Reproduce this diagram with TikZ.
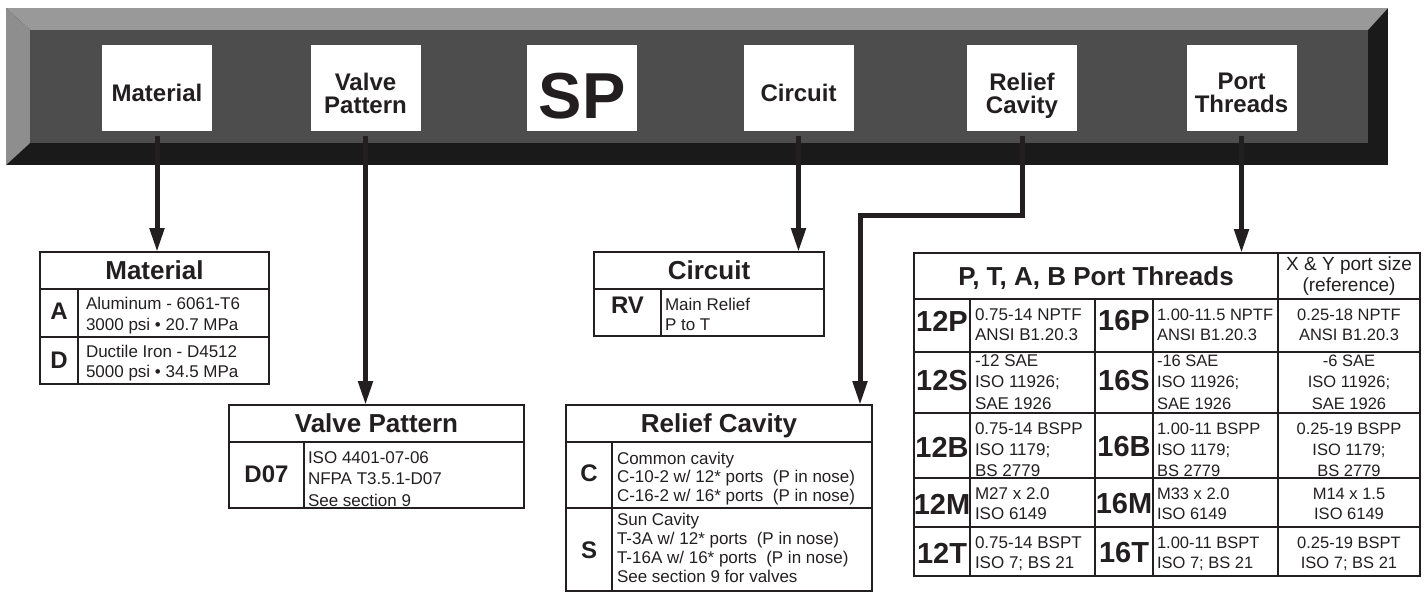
\documentclass[tikz,border=0pt]{standalone}
\usepackage{fontspec}
\setmainfont{Liberation Sans}
\usetikzlibrary{arrows.meta}
\definecolor{ink}{HTML}{231F20}
\definecolor{bartop}{HTML}{999999}
\definecolor{barleft}{HTML}{8E8E8E}
\definecolor{barmid}{HTML}{4D4D4D}
\definecolor{bardark}{HTML}{1A1A1A}
\newcommand\fs[2]{\fontsize{#1}{#2}\selectfont}
\newcommand\desclines[6]{%
  \foreach \t [count=\i from 0] in {#6}{%
    \node[#1] (#2\i) at (#3,{#4+\i*#5}) {\t};}}
\begin{document}
\begin{tikzpicture}[x=1pt,y=-1pt,
  tagbox/.style={fill=white,minimum width=110pt,minimum height=86pt,inner sep=0pt,outer sep=0pt},
  tagtxt/.style={inner sep=0pt,text=ink,align=center,text depth=0pt,font={\fs{24}{23}\bfseries}},
  hdr/.style={inner sep=0pt,outer sep=0pt,text=ink,text depth=0pt,font={\fs{26}{28}\bfseries}},
  lab/.style={inner sep=0pt,text=ink,font={\fs{24}{26}\bfseries}},
  plab/.style={inner sep=0pt,text=ink,font={\fs{29}{30}\bfseries}},
  desc/.style={anchor=base west,inner sep=0pt,outer sep=0pt,text=ink,font={\fs{17}{20}}},
  descr/.style={anchor=base west,inner sep=0pt,outer sep=0pt,text=ink,font={\fs{17}{19}}},
  pdesc/.style={anchor=base west,inner sep=0pt,outer sep=0pt,text=ink,font={\fs{17}{20}}},
  pdescb/.style={anchor=base west,inner sep=0pt,outer sep=0pt,text=ink,font={\fs{16.5}{20}}},
  pdescc/.style={anchor=base,inner sep=0pt,outer sep=0pt,text=ink,font={\fs{16.5}{20}}},
  outerline/.style={draw=ink,line width=2.5pt},
  thinline/.style={draw=ink,line width=1.3pt},
  midline/.style={draw=ink,line width=2pt},
  conn/.style={draw=ink,line width=5pt,line join=miter,-{Triangle[width=14pt,length=24pt]}}]
\useasboundingbox (0,0) rectangle (1424,592);
% ---- bevelled bar
\fill[bardark] (6,8) rectangle (1388,165);
\fill[bartop] (6,8) -- (1388,8) -- (1368,30) -- (30,30) -- cycle;
\fill[barleft] (6,8) -- (30,30) -- (30,143) -- (6,165) -- cycle;
\fill[barmid] (30,30) rectangle (1368,143);
% ---- tag boxes
\node[tagbox] (matbox) at (157,88) {};
\node[tagbox] (valbox) at (365.5,88) {};
\node[tagbox] (spbox) at (582,88) {};
\node[tagbox] (cirbox) at (798.5,88) {};
\node[tagbox] (relbox) at (1022,88) {};
\node[tagbox] (porbox) at (1241.5,88) {};
\node[tagtxt] (mattxt) at (157,93) {Material};
\node[tagtxt] (valtxt) at (365.5,93) {Valve\\Pattern};
\node[tagtxt,font={\fs{65}{65}\bfseries}] (sptxt) at (582,96) {SP};
\node[tagtxt] (cirtxt) at (798.5,93) {Circuit};
\node[tagtxt] (reltxt) at (1022,93) {Relief\\Cavity};
\node[tagtxt] (portxt) at (1241.5,93) {Port\\Threads};
% ---- Material table
\draw[thinline] (78,289) -- (78,384) (40,337) -- (269,337);
\draw[outerline] (40,289) -- (269,289);
\draw[outerline] (40,252) rectangle (269,384);
\node[hdr,minimum width=229pt,minimum height=37pt] (mathdr) at (154.5,270.5) {Material};
\node[lab] (labA) at (59,311) {A};
\node[lab] (labD) at (59,360) {D};
\desclines{desc}{mA}{86}{309}{21}{Aluminum - 6061-T6,3000 psi • 20.7 MPa}
\desclines{desc}{mD}{86}{357}{20}{Ductile Iron - D4512,5000 psi • 34.5 MPa}
% ---- Valve Pattern table
\draw[thinline] (304,442) -- (304,508);
\draw[outerline] (229,442) -- (524,442);
\draw[outerline] (229,405) rectangle (524,508);
\node[hdr,minimum width=295pt,minimum height=37pt] (valhdr) at (376.5,423.5) {Valve Pattern};
\node[lab] (labD07) at (266.5,474) {D07};
\desclines{desc}{vp}{308}{463}{21.5}{ISO 4401-07-06,NFPA T3.5.1-D07,See section 9}
% ---- Circuit table
\draw[thinline] (661,289) -- (661,336);
\draw[outerline] (594,289) -- (824,289);
\draw[outerline] (594,252) rectangle (824,336);
\node[hdr,minimum width=230pt,minimum height=37pt] (cirhdr) at (709,270.5) {Circuit};
\node[lab] (labRV) at (627.5,305) {RV};
\desclines{desc}{ci}{665}{310}{20}{Main Relief,P to T}
% ---- Relief Cavity table
\draw[thinline] (612,442) -- (612,591) (566,508) -- (872,508);
\draw[outerline] (566,442) -- (872,442);
\draw[outerline] (566,405) rectangle (872,591);
\node[hdr,minimum width=306pt,minimum height=37pt] (relhdr) at (719,423.5) {Relief Cavity};
\node[lab] (labC) at (589,473) {C};
\node[lab] (labS) at (589,550) {S};
\desclines{descr}{rc}{617}{464}{18.8}{Common cavity,C-10-2 w/ 12* ports\ \ (P in nose),C-16-2 w/ 16* ports\ \ (P in nose)}
\desclines{descr}{rs}{617}{525}{19}{Sun Cavity,T-3A w/ 12* ports\ \ (P in nose),T-16A w/ 16* ports\ \ (P in nose),See section 9 for valves}
% ---- Port Threads table
\draw[thinline] (970,299) -- (970,576) (1153,299) -- (1153,576);
\draw[midline] (914,352) -- (1420,352) (914,413) -- (1420,413) (914,478) -- (1420,478) (914,527) -- (1420,527);
\draw[midline] (1095,299) -- (1095,576);
\draw[outerline] (1278,253) -- (1278,576);
\draw[outerline] (914,299) -- (1420,299);
\draw[outerline] (914,253) rectangle (1420,576);
\node[hdr,minimum width=364pt,minimum height=46pt,font={\fs{26}{28}\bfseries}] (porhdr) at (1096,276) {P, T, A, B Port Threads};
\node[pdescc,font={\fs{19}{20}}] (xy0) at (1349,270) {X \& Y port size};
\node[pdescc,font={\fs{19}{20}}] (xy1) at (1349,291) {(reference)};
% labels
\node[plab] (l12P) at (942,321) {12P};
\node[plab] (l16P) at (1124,321) {16P};
\node[plab] (l12S) at (942,381) {12S};
\node[plab] (l16S) at (1124,381) {16S};
\node[plab] (l12B) at (942,447) {12B};
\node[plab] (l16B) at (1124,447) {16B};
\node[plab] (l12M) at (942,504) {12M};
\node[plab] (l16M) at (1124,504) {16M};
\node[plab] (l12T) at (942,553) {12T};
\node[plab] (l16T) at (1124,553) {16T};
% column 2
\desclines{pdesc}{aP}{975}{320}{20}{0.75-14 NPTF,ANSI B1.20.3}
\desclines{pdesc}{aS}{975}{366}{21.5}{-12 SAE,ISO 11926;,SAE 1926}
\desclines{pdesc}{aB}{975}{434}{21}{0.75-14 BSPP,ISO 1179;,BS 2779}
\desclines{pdesc}{aM}{975}{499}{20}{M27 x 2.0,ISO 6149}
\desclines{pdesc}{aT}{975}{548}{20}{0.75-14 BSPT,ISO 7; BS 21}
% column 4
\desclines{pdescb}{bP}{1157}{320}{20}{1.00-11.5 NPTF,ANSI B1.20.3}
\desclines{pdescb}{bS}{1157}{366}{21.5}{-16 SAE,ISO 11926;,SAE 1926}
\desclines{pdescb}{bB}{1157}{434}{21}{1.00-11 BSPP,ISO 1179;,BS 2779}
\desclines{pdescb}{bM}{1157}{499}{20}{M33 x 2.0,ISO 6149}
\desclines{pdescb}{bT}{1157}{548}{20}{1.00-11 BSPT,ISO 7; BS 21}
% column 5
\desclines{pdescc}{cP}{1349}{320}{20}{0.25-18 NPTF,ANSI B1.20.3}
\desclines{pdescc}{cS}{1349}{366}{21.5}{-6 SAE,ISO 11926;,SAE 1926}
\desclines{pdescc}{cB}{1349}{434}{21}{0.25-19 BSPP,ISO 1179;,BS 2779}
\desclines{pdescc}{cM}{1349}{499}{20}{M14 x 1.5,ISO 6149}
\desclines{pdescc}{cT}{1349}{548}{20}{0.25-19 BSPT,ISO 7; BS 21}
% ---- connectors
\coordinate (relbend) at (860,215);
\draw[conn] ([yshift=-5pt]matbox.south) -- (matbox.south |- mathdr.north);
\draw[conn] ([yshift=-5pt]valbox.south) -- (valbox.south |- valhdr.north);
\draw[conn] ([yshift=-5pt]cirbox.south) -- (cirbox.south |- cirhdr.north);
\draw[conn] ([yshift=-5pt]relbox.south) |- (relbend) -- (relbend |- relhdr.north);
\draw[conn] ([yshift=-5pt]porbox.south) -- (porbox.south |- porhdr.north);
\end{tikzpicture}
\end{document}
